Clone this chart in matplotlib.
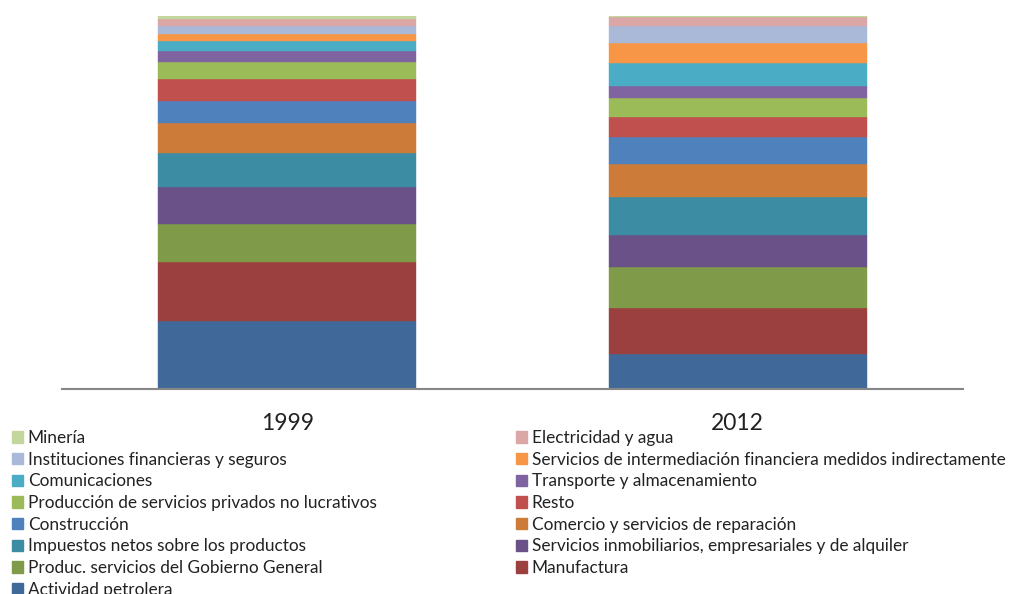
import matplotlib
matplotlib.use("Agg")
import matplotlib.pyplot as plt
from matplotlib.patches import Patch

years = ["1999", "2012"]

# stacking order: bottom -> top
sectors = [
    "Actividad petrolera",
    "Manufactura",
    "Produc. servicios del Gobierno General",
    "Servicios inmobiliarios, empresariales y de alquiler",
    "Impuestos netos sobre los productos",
    "Comercio y servicios de reparación",
    "Construcción",
    "Resto",
    "Producción de servicios privados no lucrativos",
    "Transporte y almacenamiento",
    "Comunicaciones",
    "Servicios de intermediación financiera medidos indirectamente",
    "Instituciones financieras y seguros",
    "Electricidad y agua",
    "Minería",
]

share_1999 = [18.2, 15.8, 10.3, 9.8, 9.1, 8.0, 6.1, 5.9, 4.5, 3.0, 2.5, 2.0, 2.1, 2.0, 0.7]
share_2012 = [9.4, 12.3, 11.0, 8.5, 10.3, 8.9, 7.2, 5.2, 5.2, 3.1, 6.2, 5.4, 4.7, 2.3, 0.3]

colors = [
    "#406999", "#9B403F", "#7F9A48", "#6A5187", "#3C8DA3",
    "#CC7B38", "#4F81BD", "#C0504D", "#9BBB59", "#8064A2",
    "#4BACC6", "#F79646", "#A9B9D7", "#DBA7A6", "#C3D69B",
]

plt.rcParams['font.family'] = ['Lato', 'DejaVu Sans']

fig = plt.figure(figsize=(10.15, 5.94), dpi=100)
ax = fig.add_axes([62/1015, 205/594, 901/1015, 373/594])

x = [0, 1]
bottoms = [0.0, 0.0]
for name, v1, v2, c in zip(sectors, share_1999, share_2012, colors):
    vals = [v1, v2]
    ax.bar(x, vals, bottom=bottoms, width=0.573, color=c, edgecolor=c,
           linewidth=0.3, label=name)
    bottoms = [b + v for b, v in zip(bottoms, vals)]

ax.set_xlim(-0.5, 1.5)
ax.set_ylim(0, max(bottoms))
ax.set_xticks(x)
ax.set_xticklabels(years, fontsize=16.5, color="#222222")
ax.tick_params(axis='x', length=0, pad=17)
ax.set_yticks([])
for s in ["top", "right", "left"]:
    ax.spines[s].set_visible(False)
ax.spines["bottom"].set_color("#868686")
ax.spines["bottom"].set_linewidth(1.5)

handles = {n: Patch(facecolor=c, edgecolor=c) for n, c in zip(sectors, colors)}
top_down = sectors[::-1]
left_names = top_down[0::2]
right_names = top_down[1::2]

common = dict(frameon=False, fontsize=12.4, handlelength=0.62, handleheight=0.62,
              handletextpad=0.3, labelspacing=0.33, borderpad=0, borderaxespad=0,
              loc="upper left")
leg1 = fig.legend([handles[n] for n in left_names], left_names,
                  bbox_to_anchor=(12/1015, 1 - 430/594), **common)
leg2 = fig.legend([handles[n] for n in right_names], right_names,
                  bbox_to_anchor=(516/1015, 1 - 430/594), **common)
for lg in (leg1, leg2):
    for t in lg.get_texts():
        t.set_color("#222222")

fig.savefig("out.png", dpi=100)
